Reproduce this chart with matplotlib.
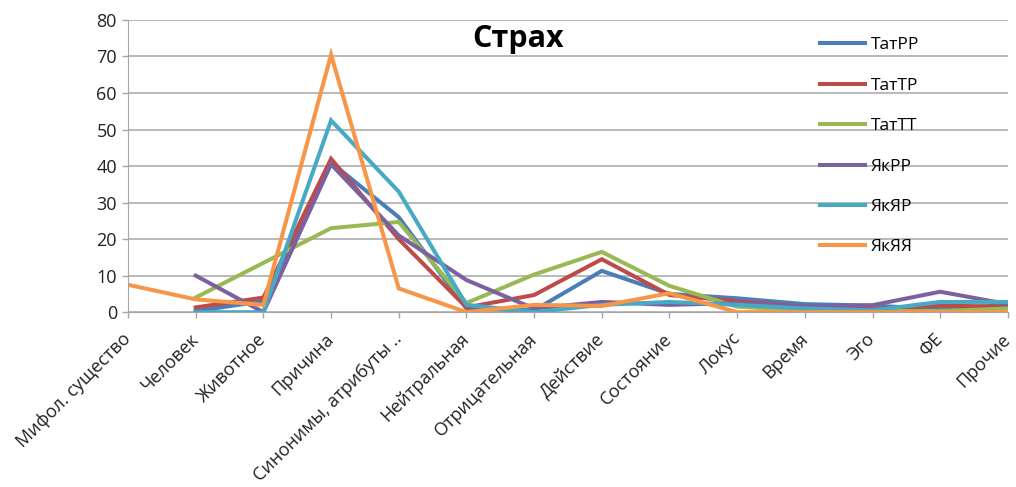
import numpy as np
import matplotlib.pyplot as plt

plt.rcParams['font.family'] = ['Open Sans', 'DejaVu Sans']

categories = ["Мифол. существо", "Человек", "Животное", "Причина",
              "Синонимы, атрибуты ..", "Нейтральная", "Отрицательная",
              "Действие", "Состояние", "Локус", "Время", "Эго", "ФЕ", "Прочие"]

# None = no value for that category
tat_rr = [None, 0.3, 3.0, 41.0, 26.0, 1.0, 0.5, 11.3, 5.0, 3.8, 2.2, 1.8, 0.8, 2.0]
tat_tr = [None, 1.3, 4.0, 42.0, 20.0, 1.3, 4.7, 14.5, 4.7, 3.0, 1.5, 0.8, 1.8, 1.5]
tat_tt = [None, 4.0, 13.5, 23.0, 24.7, 2.5, 10.3, 16.5, 7.2, 1.5, 0.5, 0.3, 0.3, 1.0]
yak_rr = [None, 10.0, 0.0, 40.5, 21.0, 8.8, 1.0, 2.8, 2.0, 2.5, 1.5, 1.9, 5.6, 2.2]
yak_yar = [None, 0.0, 0.0, 52.5, 33.0, 2.0, 0.0, 2.0, 2.8, 2.0, 1.0, 0.5, 2.8, 2.8]
yak_yaya = [7.5, 3.5, 2.0, 70.5, 6.5, 0.0, 2.0, 1.7, 5.2, 0.0, 0.0, 0.0, 0.0, 0.0]

series = [("ТатРР", tat_rr, "#4A7EBB"),
          ("ТатТР", tat_tr, "#BE4B48"),
          ("ТатТТ", tat_tt, "#98B954"),
          ("ЯкРР", yak_rr, "#7D60A0"),
          ("ЯкЯР", yak_yar, "#46AAC5"),
          ("ЯкЯЯ", yak_yaya, "#F79646")]

fig = plt.figure(figsize=(10.16, 4.87), dpi=100)
ax = fig.add_axes([0.126, 0.359, 0.866, 0.6])

x = np.arange(len(categories))
for name, vals, col in series:
    y = np.array([np.nan if v is None else v for v in vals], dtype=float)
    ax.plot(x, y, color=col, lw=2.9, label=name, solid_joinstyle='miter')

ax.set_xlim(0, len(categories) - 1)
ax.set_ylim(0, 80)
ax.set_yticks(range(0, 81, 10))
ax.grid(axis='y', color='#a6a6aa', lw=1.1)
ax.set_axisbelow(True)
ax.set_xticks(x)
ax.set_xticklabels(categories, rotation=45, ha='right', va='center',
                   rotation_mode='anchor', fontsize=13)
ax.tick_params(axis='x', pad=13)
ax.tick_params(axis='y', labelsize=13)
ax.tick_params(axis='both', color='#a6a6aa', length=4.5, width=1, labelcolor='#222222')
for s in ['top', 'right']:
    ax.spines[s].set_visible(False)
for s in ['left', 'bottom']:
    ax.spines[s].set_color('#a6a6aa')

ax.text(0.443, 0.935, "Страх", transform=ax.transAxes, ha='center', va='center',
        fontsize=22, fontweight='bold')

ax.legend(loc='upper left', bbox_to_anchor=(0.769, 0.995), frameon=False, fontsize=12.5,
          handlelength=2.6, labelspacing=1.4, handletextpad=0.3)

fig.savefig("out.png", dpi=100)
